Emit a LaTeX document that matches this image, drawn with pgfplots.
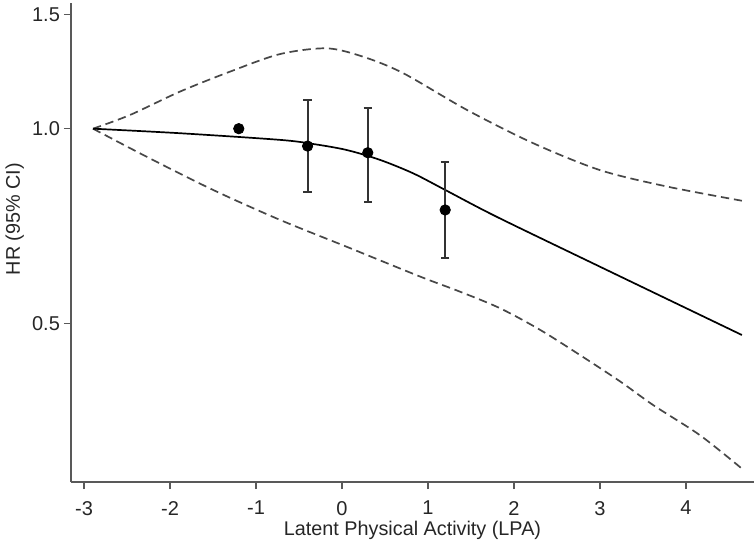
\documentclass[border=0pt]{standalone}
\usepackage{fontspec}
\setmainfont{Liberation Sans}
\usepackage{pgfplots}
\pgfplotsset{compat=1.18}
\begin{document}
\begin{tikzpicture}
\begin{axis}[
 name=ax, at={(0,0)}, anchor=south west,
 scale only axis, width=341.5pt, height=239.5pt,
 xmin=-3.151, xmax=4.791, ymode=log, ymin=0.2845, ymax=1.564,
 axis lines=left, axis line style={-, draw=black!65, line width=0.7pt},
 xtick={-3,-2,-1,0,1,2,3,4}, xticklabels={-3,-2,-1,0,1,2,3,4},
 ytick={0.5,1,1.5}, yticklabels={0.5,1.0,1.5},
 yminorticks=false, xminorticks=false,
 tick align=outside, major tick length=3.5pt,
 tick style={draw=black!65, line width=0.6pt},
 ticklabel style={font=\fontsize{10}{12}\selectfont, text=black!85},
 xticklabel style={yshift=-2.5pt},
 yticklabel style={xshift=1.5pt},
 /pgf/number format/assume math mode=true,
 every axis x label/.style={at={(rel axis cs:0.5,0)}, anchor=base, yshift=-26.5pt, font=\fontsize{9.9}{12}\selectfont, text=black!85},
 every axis y label/.style={at={(rel axis cs:0,0.549)}, xshift=-25.5pt, rotate=90, anchor=base, font=\fontsize{9.9}{12}\selectfont, text=black!85},
 xlabel={Latent Physical Activity (LPA)},
 ylabel={HR (95\% CI)},
 clip=false,
]
% upper CI
\addplot[smooth, draw=black!72, line width=0.85pt, dash pattern=on 4.2pt off 2.4pt] coordinates {
(-2.895,1.0) (-2.465,1.050) (-1.884,1.141) (-1.302,1.225) (-0.721,1.304) (-0.178,1.331) (0.244,1.292) (0.709,1.219) (1.453,1.069) (2.221,0.950) (3.0,0.863) (3.779,0.814) (4.65,0.774)
};
% lower CI
\addplot[smooth, draw=black!72, line width=0.85pt, dash pattern=on 4.2pt off 2.4pt] coordinates {
(-2.895,1.0) (-2.271,0.905) (-1.497,0.804) (-0.721,0.723) (0.055,0.657) (0.907,0.591) (1.372,0.560) (1.837,0.528) (2.302,0.489) (2.767,0.447) (3.233,0.407) (3.620,0.374) (4.163,0.336) (4.655,0.298)
};
% estimate
\addplot[smooth, draw=black, line width=0.85pt] coordinates {
(-2.895,1.0) (-1.884,0.984) (-0.721,0.961) (-0.334,0.947) (0.055,0.927) (0.442,0.895) (0.829,0.853) (1.217,0.802) (1.799,0.731) (3.0,0.612) (4.65,0.480)
};
% categorical points
\addplot[only marks, mark=*, mark size=2.6pt, black,
 error bars/.cd, y dir=both, y explicit,
 error bar style={line width=1pt, draw=black!80},
 error mark options={line width=1pt, mark size=2.1pt, draw=black!80, rotate=90}]
coordinates {
(-1.2,1.0) += (0,0) -= (0,0)
(-0.4,0.940) += (0,0.168) -= (0,0.141)
(0.3,0.918) += (0,0.160) -= (0,0.148)
(1.2,0.749) += (0,0.138) -= (0,0.118)
};
\end{axis}
\pgfresetboundingbox
\useasboundingbox (-35.5pt,-29pt) rectangle (341.5pt,241pt);
\end{tikzpicture}
\end{document}
